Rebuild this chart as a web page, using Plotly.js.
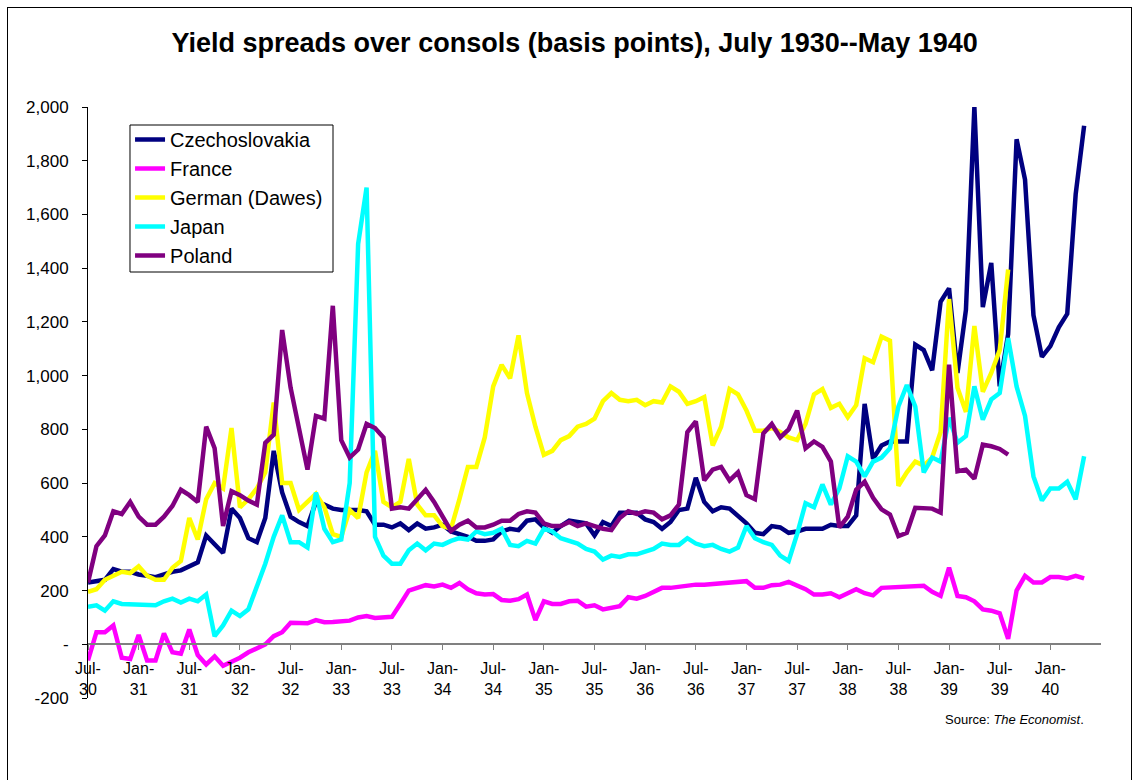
<!DOCTYPE html>
<html><head><meta charset="utf-8">
<script src="https://cdn.plot.ly/plotly-3.0.1.min.js"></script>
<style>
html,body{margin:0;padding:0;background:#fff;}
#chart{width:1138px;height:780px;position:absolute;left:0;top:0;}
#frame{position:absolute;left:7px;top:7px;width:1123px;height:800px;border:1px solid #000;pointer-events:none;}
</style></head><body>
<div id="chart"></div><div id="frame"></div>
<script>
// Monthly categories, July 1930 -- May 1940
const monthAbbr = ["Jan","Feb","Mar","Apr","May","Jun","Jul","Aug","Sep","Oct","Nov","Dec"];
const months = [];
for (let y = 1930, m = 6; !(y === 1940 && m === 5); ) {
  months.push(monthAbbr[m] + "-" + String(y).slice(2));
  m++; if (m === 12) { m = 0; y++; }
}

const czechoslovakia = [
  230, 235, 240, 280, 270, 270,
  260, 255, 250, 260, 270, 275, 290, 305, 405, 370, 340, 505,
  470, 395, 380, 470, 720, 565, 475, 455, 440, 530, 520, 505,
  500, 500, 500, 495, 445, 445, 435, 450, 425, 450, 430, 435,
  445, 420, 410, 400, 385, 385, 390, 420, 430, 425, 460, 465,
  435, 415, 440, 460, 455, 450, 405, 455, 440, 490, 490, 490,
  465, 455, 430, 455, 500, 505, 620, 530, 495, 510, 505, 480,
  450, 415, 410, 440, 435, 415, 420, 430, 430, 430, 445, 440,
  440, 480, 895, 690, 740, 755, 755, 755, 1115, 1095, 1020, 1275,
  1325, 1010, 1245, 2000, 1255, 1420, 960, 1155, 1880, 1730, 1225, 1070,
  1110, 1180, 1230, 1675, 1930
];
const france = [
  -60, 45, 45, 70, -50, -55,
  35, -60, -60, 40, -30, -35, 55, -40, -75, -45, -80, -65,
  -50, -30, -15, 0, 30, 45, 80, 80, 78, 90, 82, 83,
  85, 88, 100, 105, 98, 102, 102, 150, 200, 210, 220, 215,
  222, 210, 228, 205, 190, 185, 187, 165, 162, 168, 185, 90,
  160, 150, 150, 160, 162, 140, 145, 130, 138, 142, 175, 170,
  180, 195, 210, 210, 215, 220, 222, 222, 225, 228, 230, 232,
  235, 210, 210, 220, 222, 232, 218, 205, 185, 185, 190, 175,
  190, 205, 190, 182, 210, 212, 215, 215, 215, 218, 195, 180,
  285, 180, 175, 160, 130, 125, 115, 20, 200, 255, 230, 230,
  250, 250, 245, 255, 245
];
const germanDawes = [
  195, 205, 240, 255, 270, 265,
  290, 255, 240, 240, 285, 310, 470, 390, 540, 600, 580, 805,
  510, 540, 580, 640, 900, 600, 600, 500, 530, 560, 510, 410,
  400, 500, 470, 640, 720, 530, 510, 530, 690, 520, 480, 480,
  440, 430, 540, 660, 660, 770, 960, 1040, 990, 1150, 935, 810,
  705, 720, 760, 775, 810, 820, 840, 905, 935, 910, 905, 910,
  890, 905, 900, 960, 940, 895, 905, 920, 740, 810, 950, 930,
  870, 795, 795, 805, 790, 770, 760, 820, 930, 950, 880, 895,
  845, 890, 1065, 1050, 1145, 1130, 590, 640, 680, 665, 695, 790,
  1285, 955, 865, 1185, 940, 1010, 1095, 1395, null, null, null, null,
  null, null, null, null, null
];
const japan = [
  140, 145, 125, 160, 150, 148,
  150, 148, 145, 160, 170, 155, 170, 160, 185, 30, 70, 125,
  105, 130, 210, 300, 400, 480, 380, 380, 360, 565, 430, 380,
  390, 600, 1490, 1700, 400, 330, 300, 300, 350, 375, 350, 375,
  370, 385, 395, 390, 420, 410, 415, 430, 370, 365, 385, 375,
  430, 420, 395, 385, 375, 355, 345, 315, 330, 325, 335, 335,
  345, 355, 375, 370, 370, 395, 375, 365, 370, 355, 345, 360,
  440, 395, 380, 370, 330, 310, 410, 525, 510, 595, 520, 580,
  700, 680, 625, 680, 695, 730, 885, 965, 885, 640, 695, 680,
  843, 750, 775, 960, 836, 911, 935, 1140, 960, 850, 625, 535,
  580, 580, 605, 540, 700
];
const poland = [
  230, 365, 405, 495, 485, 530,
  475, 445, 445, 475, 515, 575, 555, 530, 810, 730, 440, 570,
  555, 535, 520, 750, 780, 1170, 955, 800, 650, 850, 840, 1260,
  760, 695, 725, 820, 805, 770, 505, 510, 505, 540, 575, 530,
  475, 422, 445, 460, 435, 435, 445, 460, 460, 485, 495, 490,
  450, 440, 440, 455, 440, 450, 440, 430, 425, 470, 495, 485,
  495, 490, 465, 480, 520, 790, 830, 610, 650, 660, 610, 640,
  555, 540, 785, 820, 770, 800, 870, 730, 755, 735, 680, 435,
  475, 575, 605, 545, 502, 483, 403, 415, 508, 505, 505, 490,
  1041, 644, 650, 616, 743, 737, 727, 706, null, null, null, null,
  null, null, null, null, null
];

const seriesNames = ["Czechoslovakia", "France", "German (Dawes)", "Japan", "Poland"];
const seriesValues = [czechoslovakia, france, germanDawes, japan, poland];
const seriesColors = ["#000080", "#FF00FF", "#FFFF00", "#00FFFF", "#800080"];

const xTickVals = months.filter(m => m.startsWith("Jan") || m.startsWith("Jul"));
const xTickText = xTickVals.map(m => m.replace("-", "-<br>"));
const yTickVals = [-200, 0, 200, 400, 600, 800, 1000, 1200, 1400, 1600, 1800, 2000];
const yTickText = ["-200", "-", "200", "400", "600", "800", "1,000", "1,200", "1,400", "1,600", "1,800", "2,000"];

const FONT = "Liberation Sans, Arial, sans-serif";

const traces = seriesNames.map((name, i) => ({
  type: "scatter", mode: "lines", name: name,
  x: months, y: seriesValues[i],
  line: {color: seriesColors[i], width: 4.5},
  legendgroup: "g" + i,
  hoverinfo: "x+y+name"
}));

const layout = {
  width: 1138, height: 780,
  paper_bgcolor: "rgba(0,0,0,0)", plot_bgcolor: "#fff",
  margin: {l: 88, r: 37, t: 107, b: 82},
  font: {family: FONT, size: 16, color: "#000"},
  title: {
    text: "<b>Yield spreads over consols (basis points), July 1930--May 1940</b>",
    font: {family: FONT, size: 27, color: "#000"},
    x: 0.505, xanchor: "center", y: 0.946, yanchor: "middle"
  },
  showlegend: true,
  legend: {
    x: 0.0415, y: 0.978, xanchor: "left", yanchor: "top",
    bgcolor: "rgba(0,0,0,0)", borderwidth: 0,
    font: {family: FONT, size: 20, color: "#000"},
    traceorder: "grouped", tracegroupgap: 0
  },
  shapes: [{
    type: "rect", xref: "paper", yref: "paper", layer: "below",
    x0: 0.04146, x1: 0.24186, y0: 0.72081, y1: 0.96954,
    line: {color: "#000", width: 1}, fillcolor: "#fff"
  }],
  xaxis: {
    type: "category",
    range: [0, 120], autorange: false,
    anchor: "free", position: 200 / 2200,
    showline: true, linecolor: "#808080", linewidth: 2,
    ticks: "outside", ticklen: 5, tickcolor: "#808080", tickwidth: 1,
    tickvals: xTickVals, ticktext: xTickText,
    tickfont: {family: FONT, size: 16, color: "#000"},
    ticklabelstandoff: 5,
    showgrid: false, zeroline: false, fixedrange: true
  },
  yaxis: {
    range: [-200, 2000], autorange: false,
    showline: true, linecolor: "#000", linewidth: 1,
    ticks: "outside", ticklen: 5, tickcolor: "#000",
    tickvals: yTickVals, ticktext: yTickText,
    tickfont: {family: FONT, size: 17, color: "#000"},
    ticklabelstandoff: 10,
    showgrid: false, zeroline: false, fixedrange: true
  },
  annotations: [{
    xref: "paper", yref: "paper", x: 0.985, y: -0.036,
    xanchor: "right", yanchor: "middle", showarrow: false,
    text: "Source: <i>The Economist</i>.",
    font: {family: FONT, size: 13, color: "#000"}
  }]
};

Plotly.newPlot("chart", traces, layout, {displayModeBar: false, staticPlot: true});
</script>
</body></html>
